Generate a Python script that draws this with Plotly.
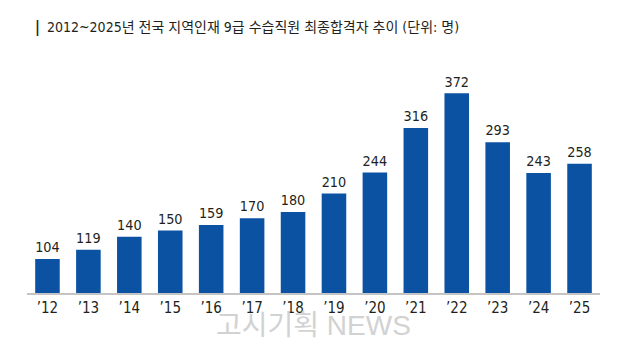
import plotly.graph_objects as go

years = ["’12", "’13", "’14", "’15", "’16", "’17", "’18", "’19", "’20", "’21", "’22", "’23", "’24", "’25"]
values = [104, 119, 140, 150, 159, 170, 180, 210, 244, 316, 372, 293, 243, 258]
title_text = "2012~2025년 전국 지역인재 9급 수습직원 최종합격자 추이 (단위: 명)"
watermark = "고시기획 NEWS"

NUM_FONT = "DejaVu Sans Condensed, Noto Sans CJK KR, sans-serif"

fig = go.Figure()
fig.add_trace(go.Bar(
    x=years, y=values,
    marker=dict(color="#0b52a3", line=dict(width=0)),
    text=[str(v) for v in values],
    textposition="outside",
    textfont=dict(family=NUM_FONT, size=15, color="#231f20"),
    cliponaxis=False,
    width=0.6,
))

fig.update_layout(
    width=625, height=344,
    margin=dict(l=27, r=25, t=60, b=51),
    paper_bgcolor="white", plot_bgcolor="white",
    showlegend=False,
    xaxis=dict(showline=True, linecolor="#c4c4c4", linewidth=1.5, ticks="",
               tickfont=dict(family=NUM_FONT, size=15, color="#231f20"),
               showgrid=False, zeroline=False, fixedrange=True),
    yaxis=dict(range=[49, 426], visible=False, showgrid=False, zeroline=False),
    annotations=[
        dict(text="<b>|</b>", xref="paper", yref="paper", x=0.01, y=1.0, yshift=33,
             xanchor="left", yanchor="middle", showarrow=False,
             font=dict(family=NUM_FONT, size=15, color="#231f20")),
        dict(text=title_text, xref="paper", yref="paper", x=0.031, y=1.0, yshift=33,
             xanchor="left", yanchor="middle", showarrow=False,
             font=dict(family=NUM_FONT, size=14, color="#231f20")),
        dict(text=watermark, xref="paper", yref="paper", x=0.5, y=0, yshift=-32,
             xanchor="center", yanchor="middle", showarrow=False,
             font=dict(family="Liberation Sans, Noto Sans CJK KR, sans-serif", size=28, color="#d2d2d2")),
    ],
)

fig.write_html("out.html")
